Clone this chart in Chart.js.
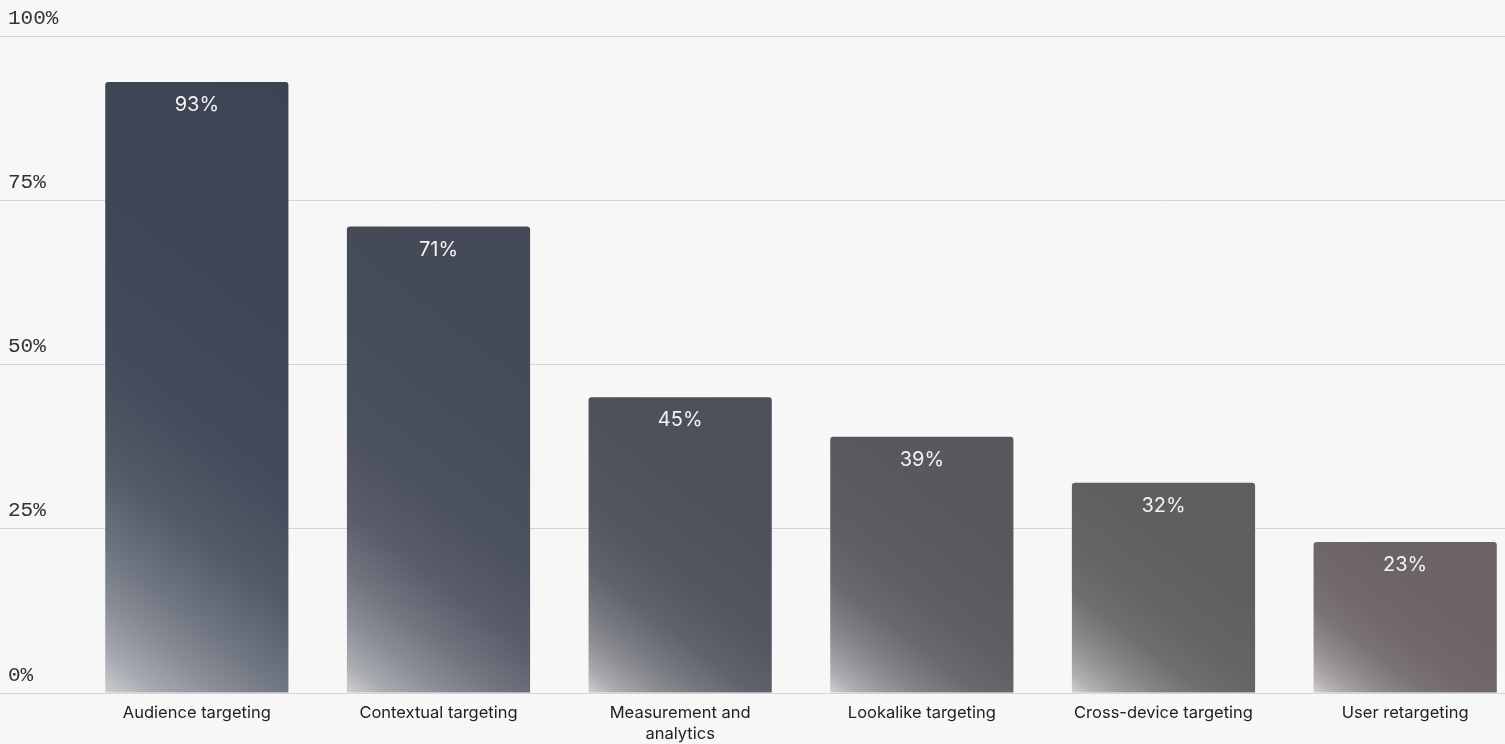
<!DOCTYPE html>
<html>
<head>
<meta charset="utf-8">
<script src="https://cdn.jsdelivr.net/npm/chart.js@4"></script>
<style>
  html, body { margin: 0; padding: 0; background: #f7f7f7; overflow: hidden; }
  .wrap { position: relative; width: 1526px; height: 744px; }
</style>
</head>
<body>
<div class="wrap"><canvas id="usageChart"></canvas></div>
<script>
// categories, values and axis ticks
const categories = [
  "Audience targeting",
  "Contextual targeting",
  ["Measurement and", "analytics"],
  "Lookalike targeting",
  "Cross-device targeting",
  "User retargeting"
];
const shares = [93, 71, 45, 39, 32, 23];
const yTicks = [0, 25, 50, 75, 100];

// base tone of each bar, from slate blue to warm grey
const barTones = ["#3c4454", "#444957", "#4d5059", "#57575e", "#605d60", "#6b6263"];
const glow = [226, 226, 228];

function hexToRgb(h) {
  const n = parseInt(h.slice(1), 16);
  return [(n >> 16) & 255, (n >> 8) & 255, n & 255];
}
function mix(base, amt) {
  const c = base.map((v, i) => Math.round(v + (glow[i] - v) * amt));
  return `rgb(${c[0]},${c[1]},${c[2]})`;
}

const BAR_PCT = 0.758;

// each bar lights up from its bottom-left corner along a diagonal
function barFill(ctx) {
  const chart = ctx.chart;
  const i = ctx.dataIndex;
  const tone = barTones[i] || barTones[0];
  const { chartArea, scales } = chart;
  if (!chartArea || !scales.x || !scales.y || i === undefined) return tone;
  const w = scales.x.width / categories.length * BAR_PCT;
  const left = scales.x.getPixelForValue(i) - w / 2;
  const bottom = scales.y.getPixelForValue(0);
  const top = scales.y.getPixelForValue(shares[i]);
  const L = Math.hypot(w, bottom - top);
  const base = hexToRgb(tone);
  const g = chart.ctx.createLinearGradient(left, bottom, left + 0.61 * L, bottom - 0.79 * L);
  g.addColorStop(0, mix(base, 0.88));
  g.addColorStop(0.05, mix(base, 0.64));
  g.addColorStop(0.12, mix(base, 0.44));
  g.addColorStop(0.19, mix(base, 0.29));
  g.addColorStop(0.29, mix(base, 0.13));
  g.addColorStop(0.42, mix(base, 0.05));
  g.addColorStop(0.65, mix(base, 0.01));
  g.addColorStop(1, mix(base, 0));
  return g;
}

// value labels inside the top of each bar
const valueLabels = {
  id: "valueLabels",
  afterDatasetsDraw(chart) {
    const { ctx } = chart;
    const meta = chart.getDatasetMeta(0);
    ctx.save();
    ctx.font = "20px Inter";
    ctx.fillStyle = "#f3f3f3";
    ctx.textAlign = "center";
    ctx.textBaseline = "middle";
    meta.data.forEach((bar, i) => {
      ctx.fillText(shares[i] + "%", bar.x, bar.y + 23);
    });
    ctx.restore();
  }
};

new Chart(document.getElementById("usageChart"), {
  type: "bar",
  data: {
    labels: categories,
    datasets: [{
      data: shares,
      backgroundColor: barFill,
      borderRadius: 3,
      borderSkipped: "start",
      categoryPercentage: 1,
      barPercentage: BAR_PCT
    }]
  },
  options: {
    responsive: true,
    maintainAspectRatio: false,
    animation: false,
    layout: { padding: { top: 36, left: 8, right: 0, bottom: 0 } },
    plugins: {
      legend: { display: false },
      tooltip: { enabled: false }
    },
    scales: {
      x: {
        grid: { display: false, drawTicks: false },
        border: { display: false },
        ticks: {
          color: "#222",
          font: { family: "Inter", size: 16.5, lineHeight: 1.26 },
          padding: 10,
          maxRotation: 0,
          autoSkip: false
        },
        afterFit(s) { s.height = 51; }
      },
      y: {
        min: 0,
        max: 100,
        afterBuildTicks(s) { s.ticks = yTicks.map(v => ({ value: v })); },
        grid: { color: "#d5d5d5", lineWidth: 1, tickLength: 76, drawTicks: true },
        border: { display: false },
        ticks: {
          color: "#333",
          font: { family: "Liberation Mono", size: 21 },
          crossAlign: "far",
          labelOffset: -18,
          padding: 0,
          callback: v => v + "%"
        },
        afterFit(s) { s.width = 68; }
      }
    }
  },
  plugins: [valueLabels]
});
</script>
</body>
</html>
